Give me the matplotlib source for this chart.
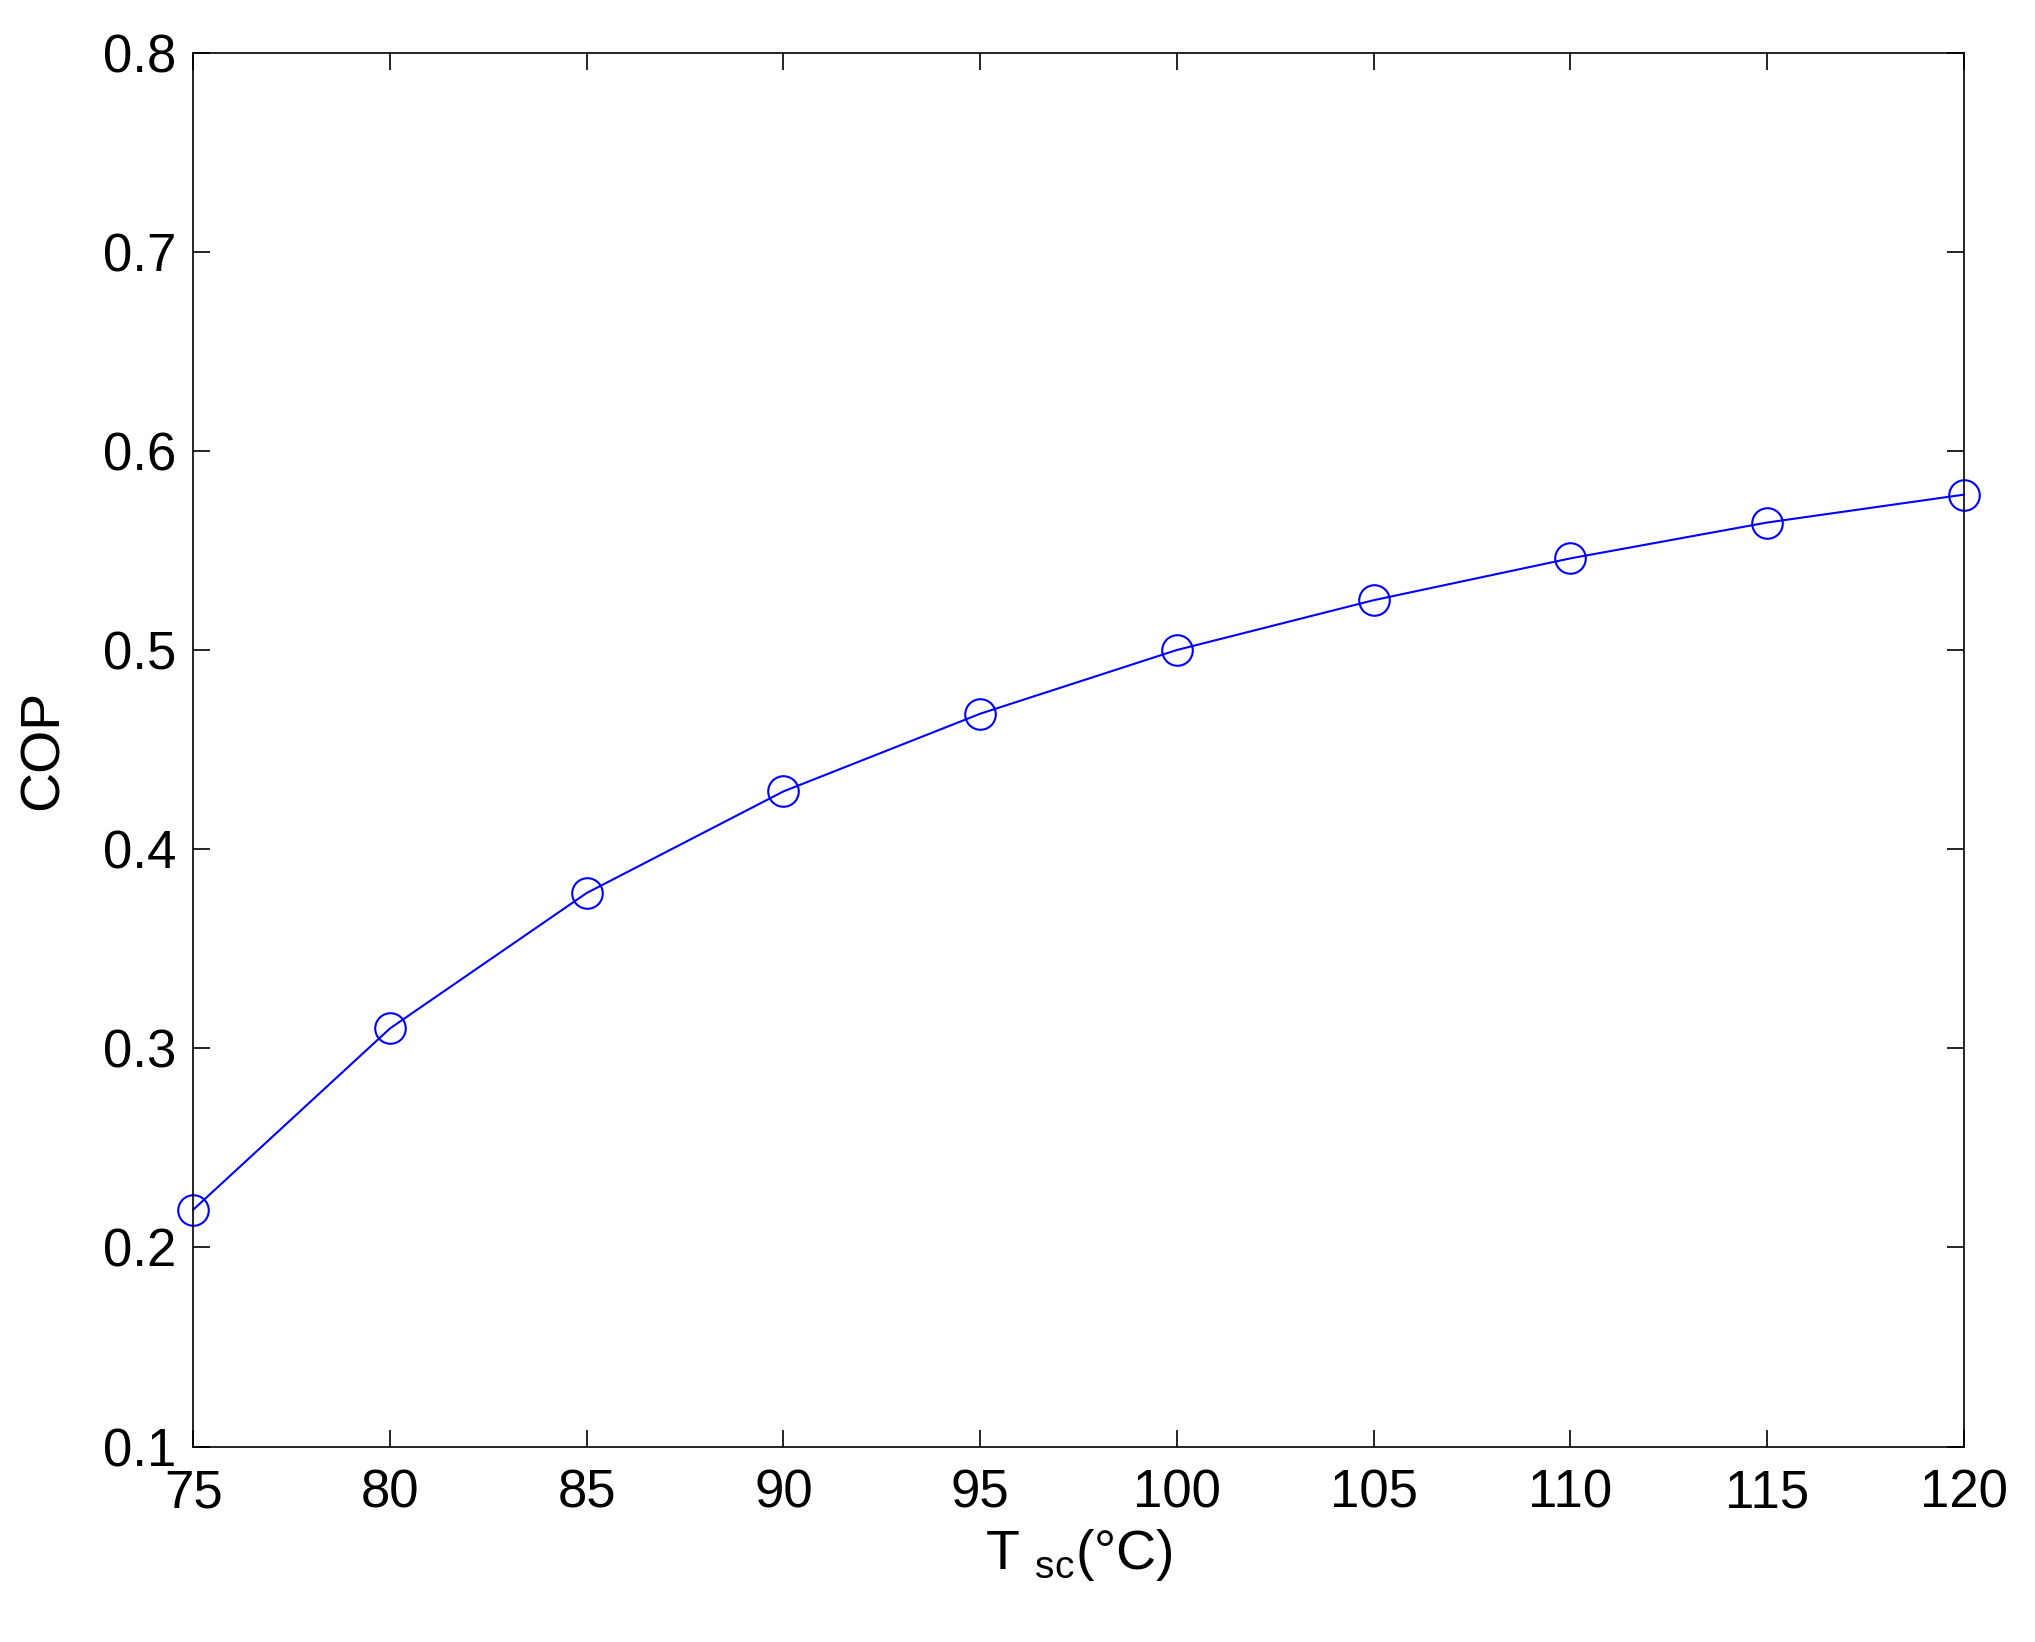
import matplotlib

matplotlib.use("Agg")
import matplotlib.pyplot as plt

plt.rcParams["font.family"] = ["Liberation Sans", "DejaVu Sans"]
plt.rcParams["mathtext.fontset"] = "custom"
plt.rcParams["mathtext.rm"] = "Liberation Sans"

T_SC = [75, 80, 85, 90, 95, 100, 105, 110, 115, 120]
COP = [0.219, 0.310, 0.378, 0.429, 0.468, 0.500, 0.525, 0.546, 0.564, 0.578]
XTICKS = [75, 80, 85, 90, 95, 100, 105, 110, 115, 120]
YTICKS = [0.1, 0.2, 0.3, 0.4, 0.5, 0.6, 0.7, 0.8]

fig = plt.figure(figsize=(20.35, 16.42), dpi=100)
ax = fig.add_axes([0.095, 0.119, 0.870, 0.849])
ax.plot(T_SC, COP, color="blue", lw=1.5, marker="o", markersize=22,
        markerfacecolor="none", markeredgecolor="blue", markeredgewidth=1.5,
        clip_on=False)
ax.set_xlim(75, 120)
ax.set_ylim(0.1, 0.8)
ax.set_xticks(XTICKS)
ax.set_yticks(YTICKS)
ax.set_yticklabels([f"{v:.1f}" for v in YTICKS])
ax.tick_params(direction="in", top=True, right=True, length=12, width=1.2,
               labelsize=38)
ax.tick_params(axis="x", pad=16)
ax.tick_params(axis="y", pad=12)
for sp in ax.spines.values():
    sp.set_linewidth(1.2)
ax.set_xlabel(r"T $_{\rm sc}$(°C)", fontsize=40, labelpad=6)
ax.set_ylabel("COP", fontsize=40, labelpad=24)
fig.savefig("out.png", dpi=100, facecolor="white")
